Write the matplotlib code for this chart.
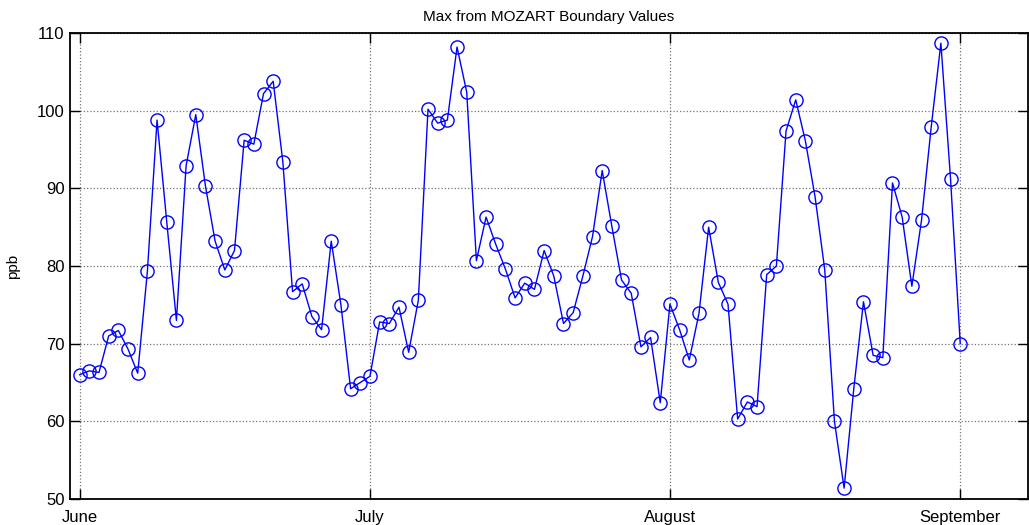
import numpy as np
import matplotlib
matplotlib.use("Agg")
from matplotlib import pyplot as plt

plt.rcParams['font.family'] = ['Liberation Sans', 'DejaVu Sans']

# daily maxima, June 1 onward
june = [66.0, 66.5, 66.3, 71.0, 71.7, 69.3, 66.2, 79.3, 98.8, 85.7,
        73.0, 92.9, 99.5, 90.3, 83.2, 79.5, 82.0, 96.2, 95.7, 102.2,
        103.8, 93.4, 76.7, 77.7, 73.5, 71.8, 83.2, 75.0, 64.2, 65.0]
july = [65.8, 72.8, 72.6, 74.7, 68.9, 75.6, 100.2, 98.4, 98.8, 108.2,
        102.4, 80.7, 86.3, 82.8, 79.6, 75.9, 77.8, 77.0, 82.0, 78.7,
        72.6, 74.0, 78.7, 83.8, 92.3, 85.1, 78.2, 76.5, 69.6, 70.8, 62.4]
august = [75.1, 71.8, 67.9, 73.9, 85.0, 77.9, 75.1, 60.3, 62.5, 61.9,
          78.9, 80.0, 97.4, 101.4, 96.1, 88.9, 79.5, 60.0, 51.4, 64.2,
          75.4, 68.5, 68.2, 90.7, 86.3, 77.4, 85.9, 97.9, 108.7, 91.2, 70.0]

month_ticks = [0, 30, 61, 91]
month_labels = ['June', 'July', 'August', 'September']
yticks = [50, 60, 70, 80, 90, 100, 110]

vals = np.array(june + july + august)
days = np.arange(len(vals))

fig = plt.figure(figsize=(10.29, 5.25), dpi=100)
ax = fig.add_axes([0.068, 0.0495, 0.931, 0.8875])

ax.plot(days, vals, '-o', color='blue', lw=1.0, markersize=9.5,
        markerfacecolor='none', markeredgewidth=1.0)

ax.set_xlim(-1, 98)
ax.set_ylim(50, 110)
ax.set_xticks(month_ticks)
ax.set_xticklabels(month_labels)
ax.set_yticks(yticks)

ax.grid(True, color='0.45', linestyle=':', linewidth=0.9)
ax.tick_params(direction='in', length=7, width=1, top=True, right=True,
               labelsize=12)
ax.tick_params(axis='x', pad=8)
ax.tick_params(axis='y', pad=4)
for s in ax.spines.values():
    s.set_linewidth(1.3)

ax.set_ylabel('ppb', fontsize=11, labelpad=12)
ax.set_title('Max from MOZART Boundary Values', fontsize=11, pad=9)

fig.savefig('out.png', dpi=100)
